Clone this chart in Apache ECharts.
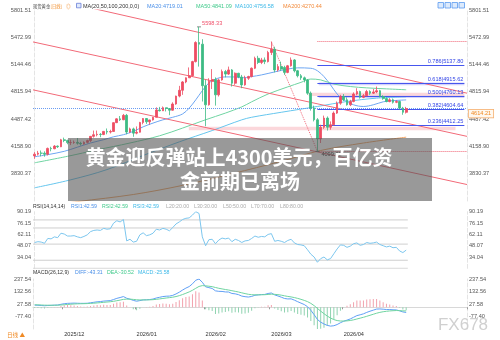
<!DOCTYPE html>
<html><head><meta charset="utf-8">
<script src="https://cdn.jsdelivr.net/npm/echarts@6/dist/echarts.min.js"></script>
<style>html,body{margin:0;padding:0;background:#fff}#c{width:500px;height:340px}</style>
</head><body><div id="c"></div>
<script>
// ---- calendar (trading days) ----
const novDays = [18,19,20,21,24,25,26,27,28];
const decDays = [1,2,3,4,5,8,9,10,11,12,15,16,17,18,19,22,23,24,26,29,30,31];
const janDays = [2,5,6,7,8,9,12,13,14,15,16,19,20,21,22,23,26,27,28,29,30];
const febDays = [2,3,4,5,6,9,10,11,12,13,16,17,18,19,20,23,24,25,26,27];
const marDays = [2,3,4,5,6,9,10,11,12,13,16,17,18,19,20,23,24,25,26,27,30,31];
const aprDays = [1,2,3,6,7,8,9,10,13,14,15,16,17,20,21,22,23,24,27,28];
const monthList = [['2025-11',novDays],['2025-12',decDays],['2026-01',janDays],['2026-02',febDays],['2026-03',marDays],['2026-04',aprDays]];
const padSlots = 18;

// ---- OHLC ----
const opens = [
4045,4066,4078,4077,4065,4135,4131,4163,4155,
4239,4231,4205,4206,4208,4197,4189,4208,4229,4280,4300,4305,4302,4340,4332,4339,4445,4491,4480,4533,4332,4370,
4319,4330,4447,4495,4456,4478,4510,4598,4588,4625,4615,4595,4670,4765,4835,4935,4985,5010,5180,5410,5390,
4890,4660,4945,4965,4780,4960,5060,5030,5080,4920,5040,4995,4900,4980,5000,5100,5220,5170,5200,5180,
5290,5330,5080,5120,5110,5050,5130,5200,5070,5010,4985,4960,4800,4620,4480,4250,4390,4500,4390,4420,4560,4680,
4760,4720,4660,4700,4790,4820,4750,4770,4820,4800,4815,4830,4760,4735,4700,4720,4690,4700,4620,4570];
const closes = [
4066,4078,4077,4065,4135,4131,4163,4155,4239,
4231,4205,4206,4208,4197,4189,4208,4229,4280,4300,4305,4302,4340,4332,4339,4445,4491,4480,4533,4332,4370,4319,
4330,4447,4495,4456,4478,4510,4598,4588,4625,4615,4595,4670,4765,4835,4935,4985,5010,5180,5410,5390,4890,
4660,4945,4965,4780,4960,5060,5030,5080,4920,5040,4995,4900,4980,5000,5100,5220,5170,5200,5180,5290,
5330,5080,5120,5090,5050,5130,5200,5070,5010,4985,4960,4800,4620,4480,4250,4390,4500,4390,4420,4560,4680,4760,
4720,4660,4700,4790,4820,4750,4770,4820,4800,4815,4830,4760,4735,4700,4720,4690,4700,4620,4570,4614.21];
const lows = [
4010,4050,4040,4035,4050,4100,4125,4140,4150,
4210,4185,4175,4190,4180,4170,4180,4195,4210,4265,4280,4270,4295,4305,4315,4335,4440,4465,4475,4305,4320,4275,
4305,4325,4425,4430,4420,4470,4510,4580,4585,4580,4535,4590,4660,4750,4780,4920,4985,5000,5170,5120,4700,
4402,4650,4850,4650,4760,4950,4990,5020,4880,4900,4980,4860,4890,4960,4990,5090,5150,5150,5150,5170,
5260,5050,5060,5070,5020,5040,5120,5050,4990,4960,4930,4780,4590,4460,4099.62,4200,4370,4350,4360,4410,4550,4660,
4705,4650,4645,4690,4775,4735,4740,4760,4780,4790,4800,4750,4720,4690,4690,4675,4680,4605,4540,4555];
const highs = [
4090,4105,4110,4100,4145,4155,4175,4170,4250,
4265,4240,4240,4230,4260,4215,4220,4240,4285,4350,4350,4320,4345,4375,4360,4450,4498,4525,4550,4550,4385,4385,
4400,4455,4500,4500,4480,4515,4630,4635,4640,4625,4620,4690,4770,4888,4945,4990,5110,5190,5425,5598.33,5450,
4960,4980,5090,4990,4975,5085,5080,5120,5090,5050,5045,5020,5010,5010,5110,5240,5250,5225,5230,5310,
5420,5360,5150,5180,5130,5140,5230,5210,5080,5030,5000,4970,4820,4650,4500,4420,4530,4520,4460,4580,4700,4780,
4790,4750,4720,4810,4860,4830,4790,4840,4835,4850,4880,4840,4775,4750,4740,4735,4715,4710,4635,4635];

// ---- moving averages: [dayIndex, value] ----
const ma20 = [[0,4034],[4,4060],[9,4100],[13,4150],[17,4200],[21,4240],[24,4275],[27,4300],[30,4340],[33,4395],[36,4440],[39,4479],[42,4510],[45,4550],[47,4620],[49,4720],[51,4830],[53,4924],[55,4970],[58,4996],[61,4995],[63,4984],[66,5000],[69,5020],[73,5056],[77,5090],[80,5105],[84,5100],[86,5070],[88,5000],[90,4900],[92,4790],[94,4720],[97,4660],[100,4640],[103,4660],[106,4696],[109,4710],[113,4719.01]];
const ma50 = [[0,3962],[10,4040],[19,4118],[29,4200],[38,4287],[45,4380],[52,4480],[58,4560],[63,4635],[66,4696],[71,4790],[77,4876],[81,4930],[84,4970],[87,4960],[91,4910],[96,4880],[101,4864],[107,4852],[113,4841.09]];
const ma100 = [[0,3661],[11,3757],[22,3880],[33,4050],[44,4214],[54,4350],[63,4479],[66,4510],[75,4570],[86,4640],[95,4700],[104,4740],[113,4756.58]];
const ma200 = [[0,3430],[13,3495],[30,3580],[45,3690],[60,3830],[75,3980],[87,4110],[100,4200],[113,4270.44]];

// ---- drawn studies (dayIndex, price) ----
const channelLines = [
  [[-0.5,5417],[131.5,4280]],
  [[-0.5,4840],[131.5,3700]],
  [[10,5890],[131.5,4800]]
];
const fibAnchor = [[72,5420],[86,4099.62]];
const fibRatios = [0.786,0.618,0.500,0.382,0.236];
const fibPrices = [5137.80,4915.62,4760.13,4604.64,4412.25];
const fibEnds = [5420,4099.62];
const fibSpan = [86,130.7];
const pinkBands = [[46.9,128,4395,4353],[83.3,130.7,4805,4765]];
const blueBands = [[86.4,130.7,4930,4896],[86.4,130.7,4768,4742]];
const lastPrice = 4614.21;
const highMark = [50,5598.33];
const lowMark = [86,4099.62];

// ---- RSI ----
const rsi = [
52,53,52.5,51,57,56.5,59,58,63.5,
62.5,60,60,60.5,59,58,59.5,61.5,65.5,67,67.5,67,69.5,68.5,69,76,79,77.5,80.5,54,56,52.5,
53.5,61.5,64,60.5,61.5,63.5,68.5,67.5,69.5,68.5,66.5,70.5,75,77.5,80.5,82,82.5,86,90.19,88,59,
48,55.5,56,50.5,55,57.5,56.5,57.5,53,56,54.5,52,54,54.5,57,60,58.5,59.5,59,62,
63,53.5,54.5,53.5,52,54.5,56,51.5,49.5,49,48,43,37.5,34,27.5,32,34,30.5,32,38,44,49,
48.5,46,47.5,50.5,51.5,48.5,49.5,52,51,51.5,52.5,49.5,48,46.5,47.5,45.5,46,41.5,39.5,42.59];
const rsiLevels = [20,30,50,70,80];

// ---- MACD ----
const diff = [
18,17,15,13,15,16,18,19,25,
30,33,34,35,34,33,33,34,38,42,46,48,52,54,56,65,75,82,90,76,68,58,
51,56,62,63,65,69,78,84,90,93,94,100,112,127,145,161,174,197,227,237.54,210,
172,165,158,138,134,133,129,128,116,113,106,94,89,86,91,101,104,107,108,116,
120,104,95,85,74,70,71,60,47,35,23,5,-25,-62,-102,-125,-140,-152,-158,-155,-145,-130,
-117,-108,-98,-84,-70,-63,-55,-43,-33,-24,-15,-14,-16,-19,-19,-21,-22,-30,-39,-43.31];
const dea = [
21.2,20.4,19.3,18,17.4,17.1,17.3,17.6,19.1,
21.3,23.6,25.7,27.6,28.8,29.7,30.3,31.1,32.5,34.4,36.7,39,41.6,44.1,46.5,50.2,55.1,60.5,66.4,68.3,68.3,66.2,
63.2,61.8,61.8,62,62.6,63.9,66.7,70.2,74.1,77.9,81.1,84.9,90.3,97.7,107.1,117.9,129.1,142.7,159.5,175,182,
180,177,173.2,166.2,159.7,154.4,149.3,145,139.2,134,128.4,121.5,115,109.2,105.6,104.7,104.5,105,105.6,107.7,
110.1,108.9,106.1,101.9,96.3,91.1,87.1,81.6,74.7,66.8,58,47.4,32.9,13.9,-9.3,-32.4,-53.9,-73.5,-90.4,-103.3,-111.6,-115.3,
-115.6,-114.1,-110.9,-105.5,-98.4,-91.3,-84,-75.8,-67.2,-58.6,-49.9,-42.7,-37.4,-33.7,-30.8,-28.8,-27.4,-27.9,-30.1,-30.52];
const macdHist = [
-6.4,-6.8,-8.6,-10,-4.8,-2.2,1.4,2.8,11.8,
17.4,18.8,16.6,14.8,10.4,6.6,5.4,5.8,11,15.2,18.6,18,20.8,19.8,19,29.6,39.8,43,47.2,15.4,-0.6,-16.4,
-24.4,-11.6,0.4,2,4.8,10.2,22.6,27.6,31.8,30.2,25.8,30.2,43.4,58.6,75.8,86.2,89.8,108.6,135,125.1,56,
-16,-24,-30.4,-56.4,-51.4,-42.8,-40.6,-34,-46.4,-42,-44.8,-55,-52,-46.4,-29.2,-7.4,-1,4,4.8,16.6,
19.8,-9.8,-22.2,-33.8,-44.6,-42.2,-32.2,-43.2,-55.4,-63.6,-70,-84.8,-115.8,-151.8,-182.38,-180,-172.2,-157,-135.2,-103.4,-66.8,-29.4,
-2.8,12.2,25.8,43,56.8,56.6,58,65.6,68.4,69.2,69.8,57.4,42.8,29.4,23.6,15.6,10.8,-4.2,-17.8,-25.58];

// ---- axis ticks ----
const mainTicks = [3830.37,4158.90,4487.42,4815.94,5144.46,5472.99,5801.51];
const mainRange = [3501.85,5801.51];
const rsiTicks = [34.04,48.07,62.11,76.15,90.19];
const rsiRange = [20,90.19];
const macdTicks = [-77.40,27.58,132.56,237.54];
const macdRange = [-182.38,237.54];

// ================== build ==================
const dates = [];
monthList.forEach(([ym, days]) => days.forEach(d => dates.push(ym + '-' + String(d).padStart(2,'0'))));
const cats = dates.slice();
for (let k = 0; k < padSlots; k++) cats.push('pad' + k);
const nCat = cats.length;
const isMonthStart = i => i > 0 && i < dates.length && dates[i].slice(0,7) !== dates[i-1].slice(0,7);

const UP = '#ee4d62', DOWN = '#3dbb84';
const FONT = '"Liberation Sans", Arial, "Noto Sans CJK SC", sans-serif';
const CJK = '"Noto Sans CJK SC", "Liberation Sans", sans-serif';
const SMALL = 5.6;
const HEAD = 5.2;

const grids = [
  {left:33, right:33, top:10, height:191},
  {left:33, right:33, top:211.7, height:56.6},
  {left:33, right:33, top:279, height:50}
];
function catAxis(g, showLabels) {
  return {type:'category', gridIndex:g, data:cats, boundaryGap:true,
    axisLine:{show:showLabels, lineStyle:{color:'#d8d8d8'}},
    axisTick:{show:showLabels, interval:(i)=>isMonthStart(i), length:2, lineStyle:{color:'#999'}},
    axisLabel:{show:showLabels, interval:(i)=>isMonthStart(i), formatter:v=>v.slice(0,7).replace('-','/'),
      align:'left', fontSize:SMALL, color:'#333', margin:2.5, fontFamily:FONT},
    splitLine:{show:false}};
}
function valX(g) { return {type:'value', gridIndex:g, min:-0.5, max:nCat-0.5, show:false}; }
function yAx(g, pos, range, ticks) {
  return {type:'value', gridIndex:g, position:pos, min:range[0], max:range[1], scale:true,
    splitLine:{show:false}, axisTick:{show:false},
    axisLine:{show:true, lineStyle:{color:'#e4e4e4', type:'dashed'}},
    axisLabel:{customValues:ticks, formatter:v=>Number(v).toFixed(2), fontSize:SMALL, color:'#555', margin:2, fontFamily:FONT}};
}

const candleData = dates.map((d,i)=>[opens[i], closes[i], lows[i], highs[i]]);
const maSeries = [[ma20,'#6da6f2'],[ma50,'#6fd4a2'],[ma100,'#66c6ee'],[ma200,'#f2a463']].map(([pts,c])=>({
  type:'line', xAxisIndex:3, yAxisIndex:0, data:pts, smooth:0.35, symbol:'none', silent:true, z:3,
  lineStyle:{color:c, width:1}}));
const chanSeries = channelLines.map(seg=>({type:'line', xAxisIndex:3, yAxisIndex:0, data:seg, symbol:'none', silent:true, z:4,
  lineStyle:{color:'#f26a78', width:1}}));

const fibMarkLines = fibRatios.map((r,k)=>[
  {coord:[fibSpan[0], fibPrices[k]], lineStyle:{color:'#4656ee', width:1, type:'solid'},
   label:{show:true, position:'insideEndTop', formatter: r.toFixed(3)+'|'+fibPrices[k].toFixed(2), color:'#3446e6', fontSize:SMALL, fontFamily:FONT, distance:1}},
  {coord:[fibSpan[1], fibPrices[k]]}
]).concat(fibEnds.map(p=>[
  {coord:[fibSpan[0], p], lineStyle:{color:'#f06474', width:1, type:'dotted'}, label:{show:false}},
  {coord:[nCat-0.5, p]}
]));
const bandAreas = pinkBands.map(b=>[{coord:[b[0],b[2]], itemStyle:{color:'rgba(244,150,160,0.38)'}},{coord:[b[1],b[3]]}])
  .concat(blueBands.map(b=>[{coord:[b[0],b[2]], itemStyle:{color:'rgba(150,150,245,0.42)'}},{coord:[b[1],b[3]]}]));

const fibSeries = {type:'line', xAxisIndex:3, yAxisIndex:0, data:fibAnchor, symbol:'none', silent:true, z:2,
  lineStyle:{color:'#f06474', width:1, type:'dotted'},
  markLine:{silent:true, symbol:['none','none'], data:fibMarkLines, animation:false},
  markArea:{silent:true, data:bandAreas},
  markPoint:{silent:true, animation:false, data:[
    {coord:highMark, value:highMark[1], symbol:'rect', symbolSize:[4,1], itemStyle:{color:'#888'},
      label:{show:true, position:'right', distance:0, offset:[1,-3], formatter:p=>Number(p.value).toFixed(2), color:'#f0506a', fontSize:SMALL, fontFamily:FONT}},
    {coord:lowMark, value:lowMark[1], symbol:'rect', symbolSize:[4,1], itemStyle:{color:'#666'},
      label:{show:true, position:'right', distance:0, offset:[2,3], formatter:p=>Number(p.value).toFixed(2), color:'#333', fontSize:SMALL, fontFamily:FONT}}
  ]}};

const rsiLevelSeries = rsiLevels.map(L=>({type:'line', xAxisIndex:4, yAxisIndex:2, data:[[-0.5,L],[dates.length-0.5,L]],
  symbol:'none', silent:true, lineStyle:{color:'#cfcfcf', width:1}, z:1}));

const last = a => a[a.length-1];
const f2 = v => (Array.isArray(v)? v[1] : v).toFixed(2);

function txt(x, y, s, color, size, family, extra) {
  return Object.assign({type:'text', x, y, z:50, silent:true,
    style:Object.assign({text:s, fill:color, fontSize:size||HEAD, fontFamily:family||FONT, verticalAlign:'middle', align:'left'}, extra||{})});
}
const graphics = [
  txt(33,6,'现货黄金','#444',4.3,CJK),
  txt(50.5,6,'[日线]','#f08a24',4.3,CJK),
  txt(66,6,'◎','#f08a24',4.6,CJK),
  {type:'rect', z:50, silent:true, shape:{x:76.5,y:3.3,width:4.5,height:4.5}, style:{fill:'#dfe9fb', stroke:'#6a7fd8', lineWidth:0.8}},
  txt(83,6,'MA(20,50,100,200,0,0)','#333',5.5),
  txt(147,6,'MA20:'+f2(last(ma20)),'#4a8fe8',5.5),
  txt(196,6,'MA50:'+f2(last(ma50)),'#3fc98a',5.5),
  txt(235,6,'MA100:'+f2(last(ma100)),'#3bb8e8',5.5),
  txt(283,6,'MA200:'+f2(last(ma200)),'#f28a3a',5.5),
  txt(33,207,'RSI(14,14,14)','#333'),
  txt(71,207,'RSI1:'+f2(last(rsi)),'#4a8fe8'),
  txt(102,207,'RSI2:'+f2(last(rsi)),'#3fc98a'),
  txt(133,207,'RSI3:'+f2(last(rsi)),'#3bb8e8'),
  txt(166,207,'L20:20.00','#aaa'),
  txt(194,207,'L30:30.00','#aaa'),
  txt(223,207,'L50:50.00','#aaa'),
  txt(251,207,'L70:70.00','#aaa'),
  txt(280,207,'L80:80.00','#aaa'),
  txt(33,273,'MACD(26,12,9)','#333'),
  txt(75,273,'DIFF:'+f2(last(diff)),'#4a8fe8'),
  txt(107,273,'DEA:'+f2(last(dea)),'#3fc98a'),
  txt(138,273,'MACD:'+f2(last(macdHist)),'#3bb8e8'),
  txt(7,335,'日线 ▲','#f08a24',5.6,CJK),
  txt(463,325,'FX678','#d0d0d0',17,FONT,{align:'center'}),
  {type:'rect', z:100, silent:true, shape:{x:68,y:138,width:364,height:63}, style:{fill:'rgba(85,85,85,0.6)'}},
  txt(239,157,'黄金迎反弹站上4300美元，百亿资','#fff',20,CJK,{align:'center', fontWeight:'bold'}),
  txt(240,181,'金前期已离场','#fff',20,CJK,{align:'center', fontWeight:'bold'})
];
graphics.slice(-2).forEach(g=>g.z=101);
[438,445,452,459].forEach(x=>graphics.push({type:'rect', z:50, silent:true, shape:{x:x,y:2.5,width:5.5,height:5.5}, style:{fill:'#dceafc', stroke:'#5b9bf0', lineWidth:0.8}}));

const option = {
  animation:false,
  textStyle:{fontFamily:FONT},
  grid:grids,
  xAxis:[catAxis(0,false), catAxis(1,false), catAxis(2,true), valX(0), valX(1)],
  yAxis:[yAx(0,'left',mainRange,mainTicks), yAx(0,'right',mainRange,mainTicks),
         yAx(1,'left',rsiRange,rsiTicks), yAx(1,'right',rsiRange,rsiTicks),
         yAx(2,'left',macdRange,macdTicks), yAx(2,'right',macdRange,macdTicks)],
  series:[
    fibSeries,
    ...chanSeries,
    ...maSeries,
    {type:'candlestick', xAxisIndex:0, yAxisIndex:0, data:candleData, barWidth:2.2, z:5,
      itemStyle:{color:UP, color0:DOWN, borderColor:UP, borderColor0:DOWN, borderWidth:0.8},
      markLine:{silent:true, symbol:['none','none'], animation:false,
        data:[{yAxis:lastPrice}],
        lineStyle:{color:'#6a9cf2', width:1, type:'dotted'},
        label:{show:true, position:'end', formatter:lastPrice.toFixed(2), color:'#f08a24', fontSize:SMALL, fontFamily:FONT,
          backgroundColor:'#fff8ef', borderColor:'#f5b070', borderWidth:0.8, padding:[1,2], distance:2, offset:[0,5]}}
    },
    ...rsiLevelSeries,
    {type:'line', xAxisIndex:1, yAxisIndex:2, data:rsi, symbol:'none', silent:true, z:3, lineStyle:{color:'#7cc6ee', width:1}},
    {type:'bar', xAxisIndex:2, yAxisIndex:4, data:macdHist, barWidth:1, silent:true,
      itemStyle:{color:p=>p.value>=0?'#f2a2ad':'#8fd3b0'}},
    {type:'line', xAxisIndex:2, yAxisIndex:4, data:diff, symbol:'none', silent:true, z:3, lineStyle:{color:'#5f9ff5', width:1}},
    {type:'line', xAxisIndex:2, yAxisIndex:4, data:dea, symbol:'none', silent:true, z:3, lineStyle:{color:'#6fd4a0', width:1}}
  ],
  graphic:graphics
};
const chart = echarts.init(document.getElementById('c'), null, {renderer:'canvas'});
chart.setOption(option);
</script>
</body></html>
